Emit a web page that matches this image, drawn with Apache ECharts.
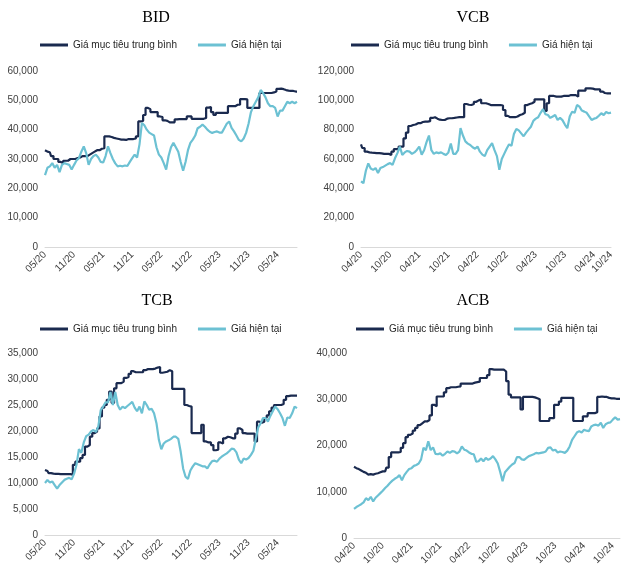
<!DOCTYPE html>
<html><head><meta charset="utf-8">
<script src="https://cdn.jsdelivr.net/npm/echarts@6/dist/echarts.min.js"></script>
<style>html,body{margin:0;padding:0;background:#fff}#c{width:626px;height:573px}</style>
</head><body><div id="c"></div>
<script>
// ---------- DATA ----------
const seriesNames = ['Giá mục tiêu trung bình', 'Giá hiện tại'];
const titles = ['BID', 'VCB', 'TCB', 'ACB'];

// half-month category builder (dates only, not values)
function halfMonths(y, m, n) {
  const out = [];
  for (let k = 0; k < n; k++) {
    const mm = m - 1 + Math.floor(k / 2);
    const yy = y + Math.floor(mm / 12);
    const mon = (mm % 12) + 1;
    out.push(yy + '-' + String(mon).padStart(2, '0') + '-' + (k % 2 ? '16' : '01'));
  }
  return out;
}
const bidDates = halfMonths(2020, 5, 105);
const vcbDates = halfMonths(2020, 4, 103).concat(['2024-10-01']);
const tcbDates = halfMonths(2020, 5, 105);
const acbDates = halfMonths(2020, 4, 112);

const bidLabelMonths = ['05', '11'];
const vcbLabelMonths = ['04', '10'];
const tcbLabelMonths = ['05', '11'];
const acbLabelMonths = ['04', '10'];

const bidTarget = [33000,32500,32300,31000,30000,30000,29000,28600,29400,29400,
30000,30000,30000,30300,30500,31000,31000,31000,31500,32000,
32500,33000,33000,33500,33700,37700,37700,37500,37200,37000,
36800,36600,36600,36500,36800,36800,36800,37000,37700,42800,
43000,45000,47400,47000,46000,46000,46000,44500,44300,43200,
43000,42500,42500,42500,43500,43600,43600,43600,43600,44500,
44500,43700,43700,43700,43700,43700,44000,47500,47700,46000,
45000,45700,45700,45700,45700,45700,48000,48000,48000,48500,
48500,50400,50400,50300,47400,47400,47400,47400,47400,52500,
52500,52500,52500,52500,52700,53000,53900,54000,53800,53500,
53300,53200,53200,53000,53000];
const bidPrice = [24500,27000,27500,28600,27000,28000,25500,28000,28600,28300,
28000,26400,28000,29500,30300,32500,34300,32000,28000,30000,
31000,31500,30500,29000,28800,31000,34300,32000,30000,28500,
27500,27700,27500,27800,27600,29000,30300,31500,30500,35000,
42300,41500,40000,39000,38500,38000,34000,31500,30500,28600,
26400,31000,34000,35500,34000,32500,29000,26000,29000,33000,
35500,36600,38000,40500,41000,41700,41000,40000,39300,38900,
39200,39400,39000,39000,40500,42000,42800,40600,39400,38000,
36500,36000,37000,38900,42000,46000,48000,49500,51000,53500,
52500,51000,49000,48000,48000,47400,44500,46500,46500,48000,
49500,49000,49500,49000,49500];

const vcbTarget = [70000,67500,65000,64500,64300,64200,64000,64000,63800,63500,
63500,63500,62800,65000,66700,66700,68500,68500,74000,78000,
82500,83200,83500,84400,84400,85200,85500,85500,85800,88000,
88500,87500,86800,86600,86600,87500,87800,87800,88000,88300,
88500,88500,88500,97500,97000,96800,97500,99000,100000,100500,
98000,98000,97500,96800,96800,96800,96800,96800,96500,93400,
89400,88500,88500,88500,89000,90000,90500,91500,96800,97500,
98000,99000,100700,100700,100700,100700,92800,98000,103000,103000,
102500,102500,102500,103000,103000,103000,103600,103600,103600,102500,
106600,106600,106600,108200,108200,108000,107500,107500,107500,106000,
105000,104800,104800,104800];
const vcbPrice = [44700,43500,52000,57000,53500,52600,53800,50500,53800,54500,
55500,56500,57200,56000,60500,64000,68500,62800,64500,65500,
65000,63500,64500,66200,68500,63000,66000,71500,76000,66000,
63500,64500,64000,64500,63500,62800,64500,70500,63500,63500,
66000,81000,76000,72000,70500,69600,68000,67000,68500,65000,
63000,62000,66000,68500,70800,66000,62000,52600,60000,63500,
67000,70000,69000,77000,80500,79500,77500,75500,78000,80000,
82000,86000,87500,88500,91500,94000,90500,90000,88000,89000,
90000,86600,88000,86500,83500,81000,89000,92300,91500,96800,
95700,93000,92300,91500,89000,86600,87500,88000,89500,91200,
90000,92000,91200,91600];

const tcbTarget = [12500,12300,11900,11800,11750,11750,11700,11700,11700,11700,
11700,11600,13500,14100,14100,14800,15400,17000,17300,18900,
19600,19900,20500,22800,24500,25000,26000,27600,25400,28200,
29200,29200,29500,30200,30400,31000,31500,31300,31300,31300,
31300,31700,31900,31900,31900,32000,32200,32300,31200,31300,
31400,31700,31500,28100,28100,28100,28100,28100,25000,24800,
24700,19600,19600,19600,19600,21200,18000,17800,17800,17300,
16300,16400,17800,17600,18600,18900,18800,18600,18600,19500,
20500,20200,19600,19500,19500,19500,19500,18000,21800,21600,
21800,22500,23000,23800,24500,25000,25000,25000,25200,26000,
26700,26800,26800,26800,26800];
const tcbPrice = [10000,10600,10100,10300,9600,8900,9600,10100,10600,10800,
11000,10700,11800,13500,16500,15800,17800,19000,19300,19900,
20200,19800,20900,24000,24700,25500,25500,27500,25000,27500,
25000,24100,24700,24400,24800,25200,25600,24500,23800,24700,
23400,25700,25000,24100,24300,23400,21500,18300,16500,17600,
18000,18200,18500,18900,18900,18500,16000,12800,11200,10800,
12400,13200,13800,13600,13400,13200,13200,12800,13600,14200,
14300,14100,14700,15100,15400,15700,16100,16600,16500,15900,
14500,13800,14700,14500,14800,15400,16200,18500,20700,21500,
22500,22500,21800,22900,23800,24700,24200,23400,22500,21000,
22600,22500,23400,24700,24400];

const acbTarget = [15400,15100,14900,14600,14300,14100,13700,13800,13700,13900,
14000,14200,14400,14400,15200,17500,18500,18500,18500,18600,
19500,20500,21800,22300,22600,23200,23800,24400,24800,25200,
25200,25500,26500,28800,28500,30600,30600,30600,31500,32400,
32600,32600,32600,32700,32800,33400,33400,33400,33400,33400,
33600,33700,33800,34600,34600,34600,35200,36500,36400,36400,
36400,36400,36400,36000,33900,31000,30400,30400,30400,30400,
27800,30500,30500,30500,30500,30400,30200,30000,25300,25300,
25300,25300,25900,25900,28800,28800,29500,30300,30300,30300,
30300,30300,25300,25300,25300,25300,26300,26300,27000,27000,
27000,27200,30500,30600,30500,30500,30300,30200,30200,30100,
30100,30100];
const acbPrice = [6300,6700,7000,7300,7700,8600,8200,8900,7900,8700,
9200,9700,10200,10800,11300,11900,12400,12800,13100,13600,
12500,13600,14300,14900,15100,15600,15800,16100,17000,19500,
19000,20900,19000,19600,18200,18100,18300,17800,18200,18700,
18400,18800,18700,18300,18700,19800,19100,18900,18500,18200,
18100,16500,16600,17200,16600,17300,16900,17200,17700,17000,
16100,14300,12300,14200,14800,15400,15900,16200,17500,17500,
17000,16900,17300,17700,17900,18100,18400,18300,18400,18500,
18700,19500,19600,18900,19100,18500,18700,18600,18400,18900,
19800,21200,22000,22800,23100,22800,23400,23200,23100,24100,
24400,24500,24300,24900,23800,24600,24900,25000,25600,26100,
25600,25700];

const bidYMax = 60000, bidYStep = 10000;
const vcbYMax = 120000, vcbYStep = 20000;
const tcbYMax = 35000, tcbYStep = 5000;
const acbYMax = 40000, acbYStep = 10000;

// ---------- CHART ----------
const DARK = '#1a2a4f', LIGHT = '#6cc1d3';
const panels = [
  {dates: bidDates, months: bidLabelMonths, t: bidTarget, p: bidPrice, max: bidYMax, step: bidYStep,
   grid: {left: 45, top: 71, width: 252, height: 176}, legend: {left: 40, top: 40}, title: [156, 18]},
  {dates: vcbDates, months: vcbLabelMonths, t: vcbTarget, p: vcbPrice, max: vcbYMax, step: vcbYStep,
   grid: {left: 361, top: 71, width: 250, height: 176}, legend: {left: 351, top: 40}, title: [473, 18]},
  {dates: tcbDates, months: tcbLabelMonths, t: tcbTarget, p: tcbPrice, max: tcbYMax, step: tcbYStep,
   grid: {left: 45, top: 353, width: 252, height: 182}, legend: {left: 40, top: 324}, title: [157, 301]},
  {dates: acbDates, months: acbLabelMonths, t: acbTarget, p: acbPrice, max: acbYMax, step: acbYStep,
   grid: {left: 354, top: 353, width: 266, height: 185}, legend: {left: 356, top: 324}, title: [473, 301]}
];
const fmt = v => v.toLocaleString('en-US');
const labelColor = '#404040';
const option = {
  animation: false,
  backgroundColor: '#fff',
  grid: [], xAxis: [], yAxis: [], series: [], legend: [], graphic: []
};
panels.forEach((pn, k) => {
  option.grid.push(Object.assign({containLabel: false, outerBoundsMode: 'none'}, pn.grid));
  option.xAxis.push({
    type: 'category', gridIndex: k, data: pn.dates, boundaryGap: false,
    axisLine: {lineStyle: {color: '#d9d9d9', width: 1}},
    axisTick: {show: false},
    splitLine: {show: false},
    axisLabel: {
      rotate: 45, fontSize: 10, fontFamily: 'Liberation Sans', color: labelColor, margin: 6,
      hideOverlap: false,
      interval: (i, v) => v.slice(8) === '01' && pn.months.includes(v.slice(5, 7)),
      formatter: v => v.slice(5, 7) + '/' + v.slice(2, 4)
    }
  });
  option.yAxis.push({
    type: 'value', gridIndex: k, min: 0, max: pn.max, interval: pn.step,
    axisLine: {show: false}, axisTick: {show: false}, splitLine: {show: false},
    axisLabel: {fontSize: 10, fontFamily: 'Liberation Sans', color: labelColor, margin: 7, formatter: fmt}
  });
  option.series.push({
    name: seriesNames[0], type: 'line', xAxisIndex: k, yAxisIndex: k, data: pn.t,
    showSymbol: false, step: 'middle', color: DARK, lineStyle: {width: 2.2, color: DARK}
  });
  option.series.push({
    name: seriesNames[1], type: 'line', xAxisIndex: k, yAxisIndex: k, data: pn.p,
    showSymbol: false, color: LIGHT, lineStyle: {width: 2.2, color: LIGHT}
  });
  option.legend.push({
    left: pn.legend.left, top: pn.legend.top, padding: 0, itemGap: 21,
    itemWidth: 28, itemHeight: 3, icon: 'rect', data: seriesNames,
    textStyle: {fontSize: 10, fontFamily: 'Liberation Sans', color: '#262626'}
  });
  option.graphic.push({
    type: 'text', x: pn.title[0], y: pn.title[1],
    style: {text: titles[k], font: '16px "Liberation Serif"', fill: '#000', align: 'center', verticalAlign: 'middle'}
  });
});
const chart = echarts.init(document.getElementById('c'));
chart.setOption(option);
</script></body></html>
